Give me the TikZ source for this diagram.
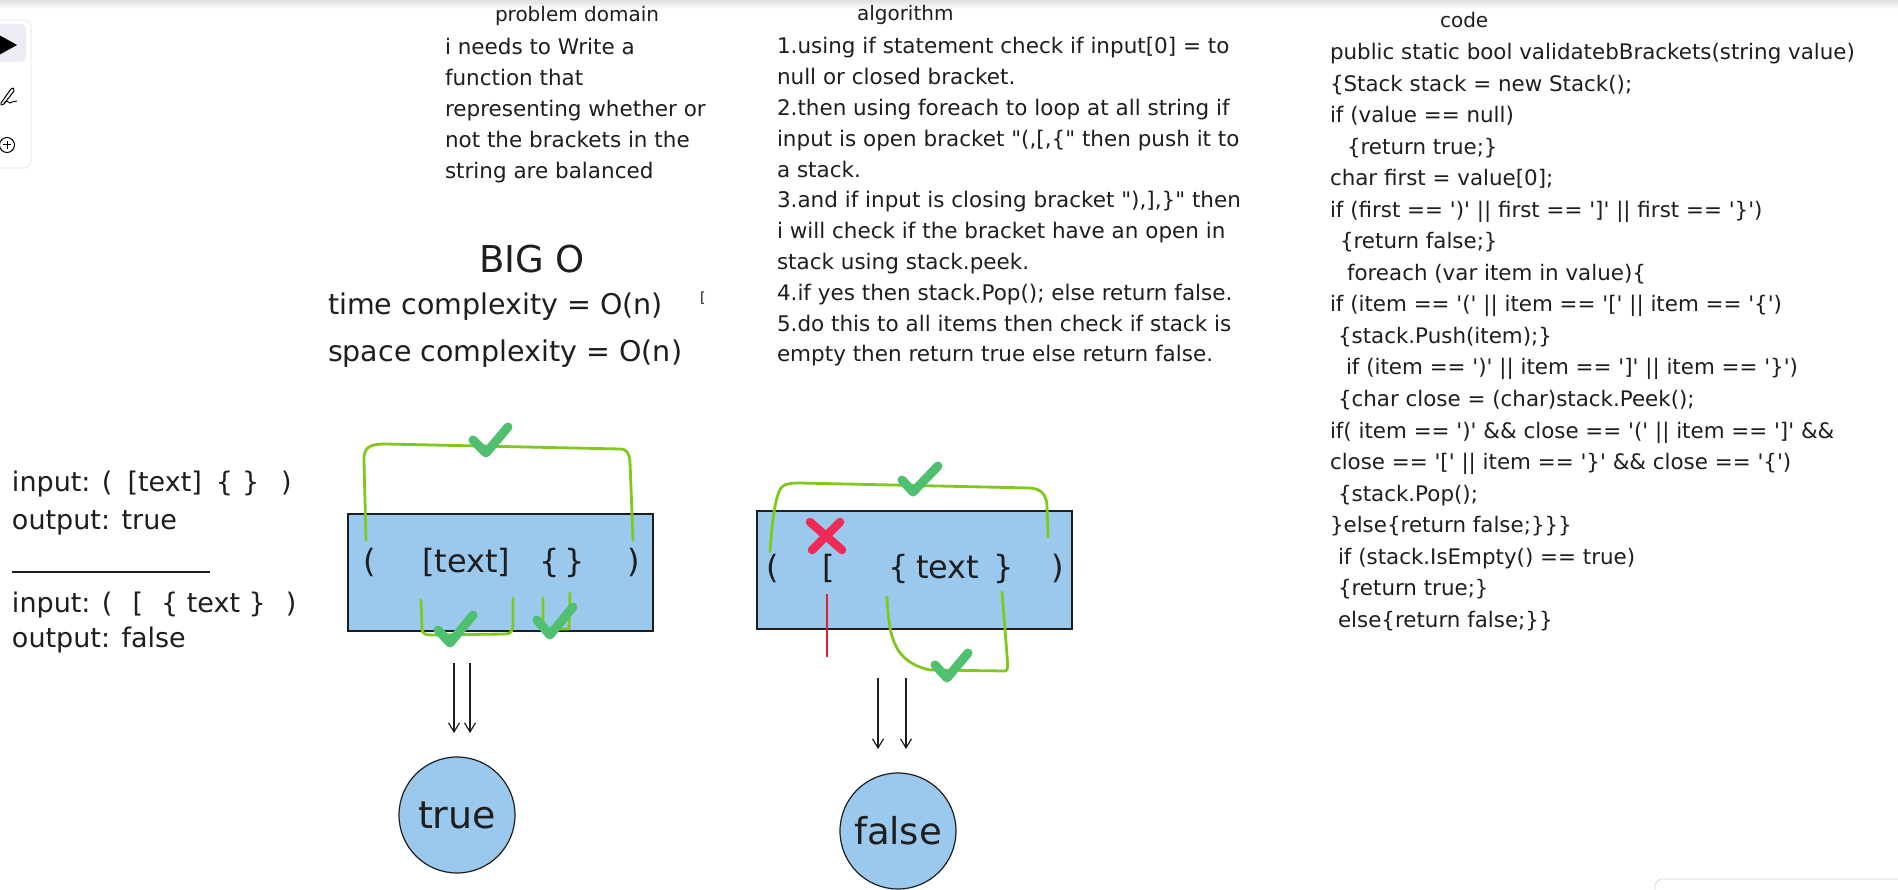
\documentclass[tikz,border=0pt]{standalone}
\usepackage{fontspec}
\setmainfont{DejaVu Sans}
\usetikzlibrary{arrows.meta}
\definecolor{boxblue}{RGB}{155,201,238}
\definecolor{brgreen}{RGB}{128,200,30}
\definecolor{chk}{RGB}{78,192,112}
\definecolor{chklight}{RGB}{120,214,140}
\definecolor{xred}{RGB}{240,42,86}
\definecolor{lred}{RGB}{230,30,50}
\definecolor{ink}{RGB}{30,30,30}
\definecolor{hl}{RGB}{236,236,244}
\newcommand{\setfs}[1]{\fontsize{#1}{#1}\selectfont}
\begin{document}
\begin{tikzpicture}[x=1pt,y=-1pt,
  txt/.style={anchor=base west, inner sep=0pt, outer sep=0pt, text=ink},
  body/.style={txt, font=\setfs{21.5}},
  codeln/.style={txt, font=\setfs{21.4}},
  head/.style={txt, font=\setfs{20}},
  bigtxt/.style={txt, font=\setfs{28.5}},
  io/.style={txt, font=\setfs{27}},
  brk/.style={txt, font=\setfs{32}},
  stackbox/.style={draw=ink, fill=boxblue, line width=1.2pt, inner sep=0pt},
  resnode/.style={circle, draw=ink, fill=boxblue, line width=1.2pt, inner sep=0pt, minimum size=116pt, text=ink},
  gbr/.style={draw=brgreen, line width=2.8pt, line cap=round, line join=round},
  tick/.style={draw=chk, line width=9pt, line cap=round, line join=round},
  cross/.style={draw=xred, line width=8.5pt, line cap=round},
  arr/.style={draw=ink, line width=1.2pt, -{Straight Barb[length=9pt,width=11pt,line width=1.2pt]}}
]
\useasboundingbox (0,0) rectangle (1898,890);
\fill[white] (0,0) rectangle (1898,890);
\shade[top color=black!12, bottom color=white] (0,0) rectangle (1898,9);

% toolbar
\draw[black!10, fill=white, rounded corners=7, line width=0.8pt] (-12,20) rectangle (31,168);
\fill[hl, rounded corners=5] (-10,24) rectangle (26,62);
\fill[black] (-1,35) -- (17,45) -- (-1,55) -- cycle;
\draw[black, line width=1pt, line cap=round, line join=round] (1,103) -- (11,89) .. controls (13,87) and (15,89) .. (14,91) -- (4,104) -- (1,105) -- cycle;
\draw[black, line width=0.9pt] (4,103) .. controls (8,98) and (9,106) .. (12,102) .. controls (14,100) and (15,103) .. (17,101);
\draw[black, line width=1pt] (7,145) circle (7.5);
\draw[black, line width=1pt] (3,145) -- (11,145) (7,141) -- (7,149);

% bottom right panel
\draw[black!15, fill=white, rounded corners=8, line width=0.8pt] (1655,905) -- (1655,879) -- (1910,879);

% problem domain
\node[head] (pdh) at (495,22) {problem domain};
\node[body] (pd1) at (445,55) {i needs to Write a};
\node[body] (pd2) at (445,86) {function that};
\node[body] (pd3) at (445,117) {representing whether or};
\node[body] (pd4) at (445,148) {not the brackets in the};
\node[body] (pd5) at (445,179) {string are balanced};

% algorithm
\node[head] (alh) at (857,21) {algorithm};
\node[body] (al1) at (777,54) {1.using if statement check if input[0] = to};
\node[body] (al2) at (777,84.8) {null or closed bracket.};
\node[body] (al3) at (777,115.6) {2.then using foreach to loop at all string if};
\node[body] (al4) at (777,146.4) {input is open bracket \textquotedbl(,[,\{\textquotedbl\ then push it to};
\node[body] (al5) at (777,177.2) {a stack.};
\node[body] (al6) at (777,208) {3.and if input is closing bracket \textquotedbl),],\}\textquotedbl\ then};
\node[body] (al7) at (777,238.8) {i will check if the bracket have an open in};
\node[body] (al8) at (777,269.6) {stack using stack.peek.};
\node[body] (al9) at (777,300.4) {4.if yes then stack.Pop(); else return false.};
\node[body] (al10) at (777,331.2) {5.do this to all items then check if stack is};
\node[body] (al11) at (777,362) {empty then return true else return false.};

% code
\node[head] (cdh) at (1440,28) {code};
\node[codeln] (c1) at (1330,60) {public static bool validatebBrackets(string value)};
\node[codeln] (c2) at (1330,91.5) {\{Stack stack = new Stack();};
\node[codeln] (c3) at (1330,123) {if (value == null)};
\node[codeln] (c4) at (1347,154.5) {\{return true;\}};
\node[codeln] (c5) at (1330,186) {char first = value[0];};
\node[codeln] (c6) at (1330,217.5) {if (first == \textquotesingle)\textquotesingle\ || first == \textquotesingle]\textquotesingle\ || first == \textquotesingle\}\textquotesingle)};
\node[codeln] (c7) at (1340,249) {\{return false;\}};
\node[codeln] (c8) at (1347,280.5) {foreach (var item in value)\{};
\node[codeln] (c9) at (1330,312) {if (item == \textquotesingle(\textquotesingle\ || item == \textquotesingle[\textquotesingle\ || item == \textquotesingle\{\textquotesingle)};
\node[codeln] (c10) at (1338,343.5) {\{stack.Push(item);\}};
\node[codeln] (c11) at (1346,375) {if (item == \textquotesingle)\textquotesingle\ || item == \textquotesingle]\textquotesingle\ || item == \textquotesingle\}\textquotesingle)};
\node[codeln] (c12) at (1338,406.5) {\{char close = (char)stack.Peek();};
\node[codeln] (c13) at (1330,438) {if( item == \textquotesingle)\textquotesingle\ \&\& close == \textquotesingle(\textquotesingle\ || item == \textquotesingle]\textquotesingle\ \&\&};
\node[codeln] (c14) at (1330,469.5) {close == \textquotesingle[\textquotesingle\ || item == \textquotesingle\}\textquotesingle\ \&\& close == \textquotesingle\{\textquotesingle)};
\node[codeln] (c15) at (1338,501) {\{stack.Pop();};
\node[codeln] (c16) at (1330,532.5) {\}else\{return false;\}\}\}};
\node[codeln] (c17) at (1338,564) {if (stack.IsEmpty() == true)};
\node[codeln] (c18) at (1338,595.5) {\{return true;\}};
\node[codeln] (c19) at (1338,627) {else\{return false;\}\}};

% big O
\node[txt, anchor=base, font=\setfs{37}] (bigo) at (532,273) {BIG O};
\node[bigtxt] (tc) at (328,315) {time complexity = O(n)};
\node[bigtxt] (sc) at (328,362) {space complexity = O(n)};
\node[txt, font=\setfs{14}] (tiny) at (700,303) {[};

% input / output
\node[io] (in1) at (12,491) {input: (\hspace{15pt}[text]\hspace{14pt}\{\hspace{9pt}\}\hspace{22pt})};
\node[io] (out1) at (12,529) {output: true};
\coordinate (ulA) at (12,572);
\coordinate (ulB) at (210,572);
\draw[ink, line width=1.4pt] (ulA) -- (ulB);
\node[io] (in2) at (12,612) {input: (\hspace{20pt}[\hspace{18pt}\{ text \}\hspace{20pt})};
\node[io] (out2) at (12,647) {output: false};

% box 1
\node[stackbox, minimum width=305pt, minimum height=117pt] (box1) at (500.5,572.5) {};
\node[brk] (b1a) at (363,572) {(};
\node[brk] (b1b) at (422,572) {[text]};
\node[brk] (b1c) at (539,572) {\{};
\node[brk] (b1d) at (564,572) {\}};
\node[brk] (b1e) at (627,572) {)};
\draw[gbr] (366,540) -- (364,462) .. controls (363,447) and (370,444) .. (385,444) -- (620,449) .. controls (627,449) and (629,453) .. (630,462) -- (633,540);
\draw[gbr] (421,600) -- (422,628) .. controls (422,634) and (425,635) .. (432,635) -- (505,634) .. controls (511,634) and (513,631) .. (513,624) -- (513,598);
\draw[gbr] (543,598) -- (543,629) -- (569,629) -- (570,593);
\draw[tick] (473,440) -- (486,453) -- (508,427);
\draw[tick] (438,630) -- (450,643) -- (473,615);
\draw[tick] (537,620) -- (550,635) -- (573,607);

% box 2
\node[stackbox, minimum width=315pt, minimum height=118pt] (box2) at (914.5,570) {};
\node[brk] (b2a) at (766,578) {(};
\node[brk] (b2b) at (822,578) {[};
\node[brk] (b2c) at (888,578) {\{};
\node[brk] (b2d) at (916,578) {text};
\node[brk] (b2e) at (993,578) {\}};
\node[brk] (b2f) at (1051,578) {)};
\draw[gbr] (770,552) .. controls (772,520) and (776,490) .. (783,486) .. controls (786,484) and (790,483) .. (800,483) -- (1030,488) .. controls (1042,489) and (1046,495) .. (1047,505) -- (1048,537);
\draw[gbr] (887,597) .. controls (889,640) and (895,662) .. (930,670) -- (1005,671) .. controls (1008,671) and (1008,667) .. (1007,655) -- (1002,592);
\draw[tick] (902,480) -- (913,492) -- (938,466);
\draw[tick] (935,665) -- (947,678) -- (968,653);
\draw[cross] (810,522) -- (842,550);
\draw[cross] (840,522) -- (812,550);
\coordinate (rlA) at (827,594);
\coordinate (rlB) at (827,657);
\draw[lred, line width=2.5pt] (rlA) -- (rlB);

% result circles
\node[resnode, font=\setfs{38}] (tnode) at (457,815) {true};
\node[resnode, font=\setfs{37}] (fnode) at (898,831) {false};

% arrows
\coordinate (a1s) at (454,663); \coordinate (a1e) at (454,733);
\coordinate (a2s) at (470,663); \coordinate (a2e) at (470,733);
\coordinate (a3s) at (878,678); \coordinate (a3e) at (878,749);
\coordinate (a4s) at (906,678); \coordinate (a4e) at (906,749);
\draw[arr] (a1s) -- (a1e);
\draw[arr] (a2s) -- (a2e);
\draw[arr] (a3s) -- (a3e);
\draw[arr] (a4s) -- (a4e);
\end{tikzpicture}
\end{document}
